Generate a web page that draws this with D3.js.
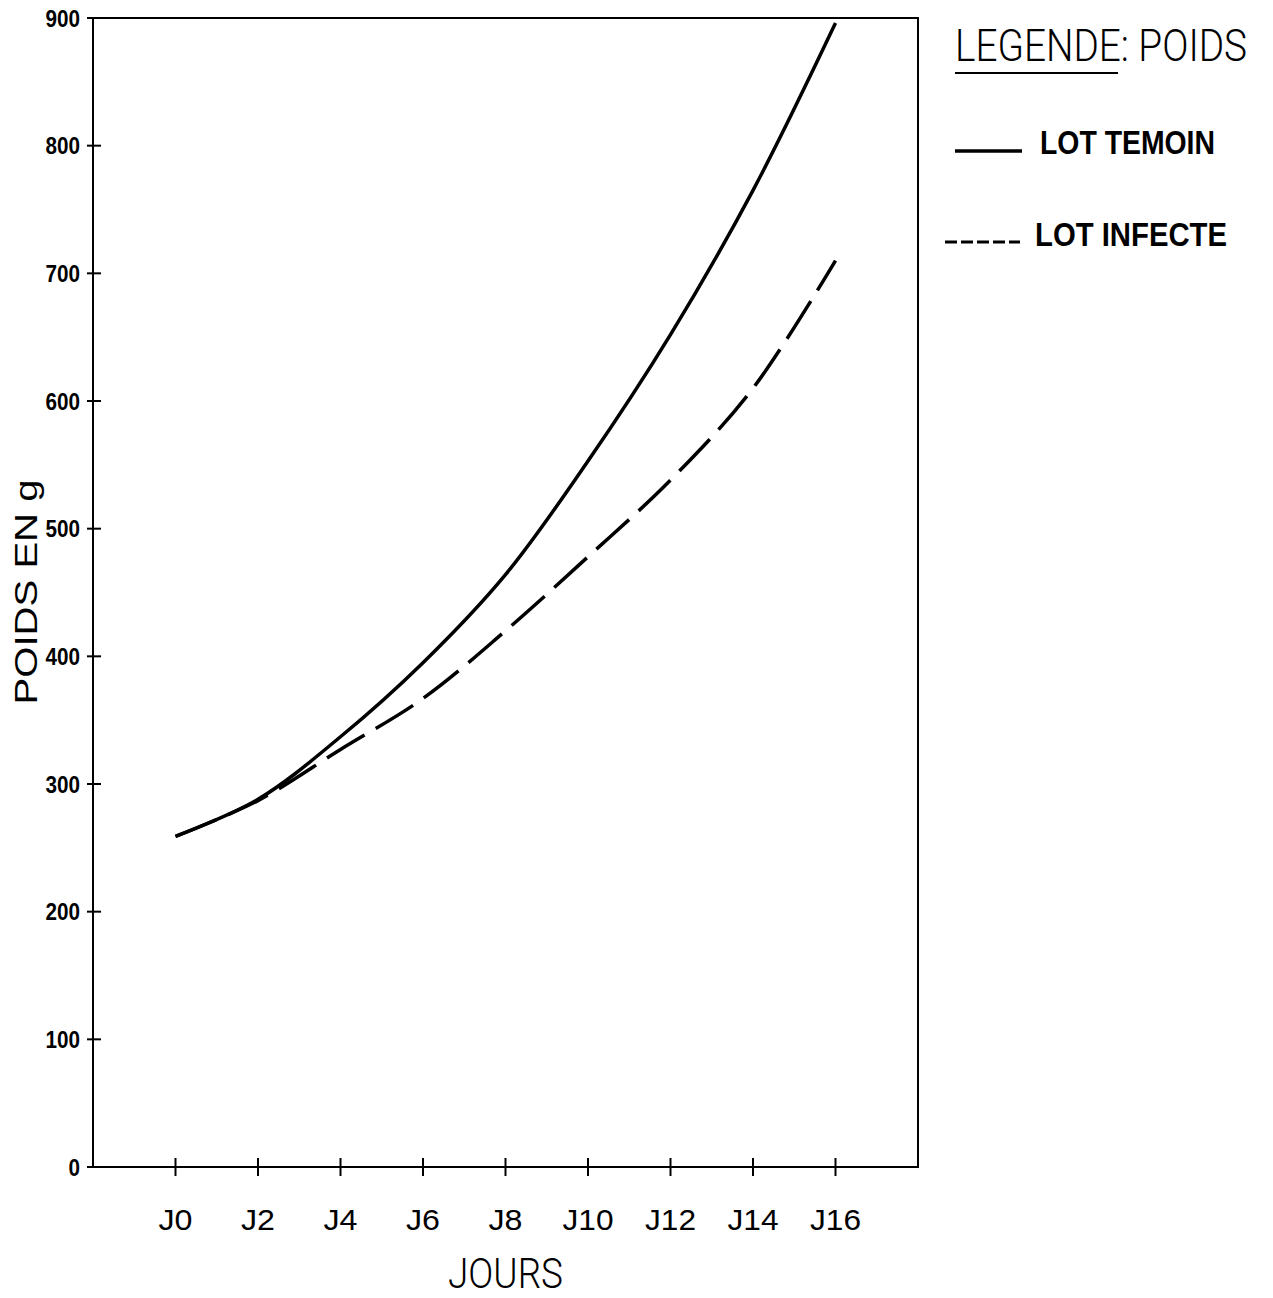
<!DOCTYPE html>
<html>
<head>
<meta charset="utf-8">
<script src="https://cdn.jsdelivr.net/npm/d3@7"></script>
<style>
  body { margin: 0; background: #fff; }
  svg text { fill: #000; }
</style>
</head>
<body>
<div id="chart"></div>
<script>
  "use strict";

  var days = [0, 2, 4, 6, 8, 10, 12, 14, 16];
  var temoin = [259, 288, 337, 395, 464, 553, 652, 765, 896];
  var infecte = [259, 287, 327, 367, 420, 478, 538, 610, 710];
  var yTicks = [0, 100, 200, 300, 400, 500, 600, 700, 800, 900];

  var width = 1273, height = 1298;
  var margin = { top: 18, left: 93, right: 355, bottom: 131 };
  var font = "'Liberation Sans', Arial, sans-serif";

  var svg = d3.select('#chart').append('svg')
    .attr('width', width)
    .attr('height', height);

  var x = d3.scaleLinear().domain([-2, 18]).range([margin.left, width - margin.right]);
  var y = d3.scaleLinear().domain([0, 900]).range([height - margin.bottom, margin.top]);

  // squeezes a text to a given width, the original lettering is narrow
  function fit(sel, w) {
    sel.attr('textLength', w).attr('lengthAdjust', 'spacingAndGlyphs');
  }

  // frame
  svg.append('rect')
    .attr('x', x(-2)).attr('y', y(900))
    .attr('width', x(18) - x(-2)).attr('height', y(0) - y(900))
    .attr('fill', 'none').attr('stroke', '#000').attr('stroke-width', 2);

  // y ticks (cross marks)
  svg.selectAll('.ytick').data(yTicks).enter().append('line')
    .attr('x1', x(-2) - 6).attr('x2', x(-2) + 8)
    .attr('y1', function(d) { return y(d); })
    .attr('y2', function(d) { return y(d); })
    .attr('stroke', '#000').attr('stroke-width', 2);

  svg.selectAll('.ylab').data(yTicks).enter().append('text')
    .attr('x', x(-2) - 13)
    .attr('y', function(d) { return y(d); })
    .attr('dy', '0.36em')
    .attr('text-anchor', 'end')
    .style('font-family', font)
    .style('font-weight', 'bold')
    .style('font-size', '24px')
    .each(function(d) {
      fit(d3.select(this), String(d).length * 11.5);
    })
    .text(function(d) { return d; });

  // x ticks
  svg.selectAll('.xtick').data(days).enter().append('line')
    .attr('x1', function(d) { return x(d); })
    .attr('x2', function(d) { return x(d); })
    .attr('y1', y(0) - 9).attr('y2', y(0) + 9)
    .attr('stroke', '#000').attr('stroke-width', 2);

  svg.selectAll('.xlab').data(days).enter().append('text')
    .attr('x', function(d) { return x(d); })
    .attr('y', y(0) + 63)
    .attr('text-anchor', 'middle')
    .style('font-family', font)
    .style('font-size', '30px')
    .each(function(d) {
      fit(d3.select(this), ('J' + d).length * 17);
    })
    .text(function(d) { return 'J' + d; });

  fit(svg.append('text')
    .attr('x', (x(-2) + x(18)) / 2)
    .attr('y', 1288)
    .attr('text-anchor', 'middle')
    .style('font-family', "Roboto, " + font)
    .style('font-weight', '300')
    .style('font-size', '43px')
    .text('JOURS'), 115);

  fit(svg.append('text')
    .attr('transform', 'translate(37,' + 592 + ') rotate(-90)')
    .attr('text-anchor', 'middle')
    .style('font-family', font)
    .style('font-size', '32px')
    .text('POIDS EN g'), 225);

  var line = d3.line()
    .x(function(d) { return x(d[0]); })
    .y(function(d) { return y(d[1]); })
    .curve(d3.curveCatmullRom.alpha(0.5));

  svg.append('path')
    .datum(d3.zip(days, infecte))
    .attr('d', line)
    .attr('fill', 'none').attr('stroke', '#000')
    .attr('stroke-width', 3.5)
    .attr('stroke-dasharray', '44,13');

  svg.append('path')
    .datum(d3.zip(days, temoin))
    .attr('d', line)
    .attr('fill', 'none').attr('stroke', '#000')
    .attr('stroke-width', 3.5);

  // legend
  var lg = svg.append('g');
  fit(lg.append('text')
    .attr('x', 955).attr('y', 61)
    .style('font-family', "Roboto, " + font)
    .style('font-size', '44px')
    .style('font-weight', '300')
    .text('LEGENDE: POIDS'), 292);
  lg.append('line')
    .attr('x1', 955).attr('x2', 1118).attr('y1', 73).attr('y2', 73)
    .attr('stroke', '#000').attr('stroke-width', 2);

  lg.append('line')
    .attr('x1', 955).attr('x2', 1022).attr('y1', 151).attr('y2', 151)
    .attr('stroke', '#000').attr('stroke-width', 3.5);
  fit(lg.append('text')
    .attr('x', 1040).attr('y', 154)
    .style('font-family', font)
    .style('font-weight', 'bold')
    .style('font-size', '33px')
    .text('LOT TEMOIN'), 175);

  lg.append('line')
    .attr('x1', 945).attr('x2', 1020).attr('y1', 242).attr('y2', 242)
    .attr('stroke', '#000').attr('stroke-width', 3)
    .attr('stroke-dasharray', '12,4');
  fit(lg.append('text')
    .attr('x', 1035).attr('y', 246)
    .style('font-family', font)
    .style('font-weight', 'bold')
    .style('font-size', '33px')
    .text('LOT INFECTE'), 192);
</script>
</body>
</html>
